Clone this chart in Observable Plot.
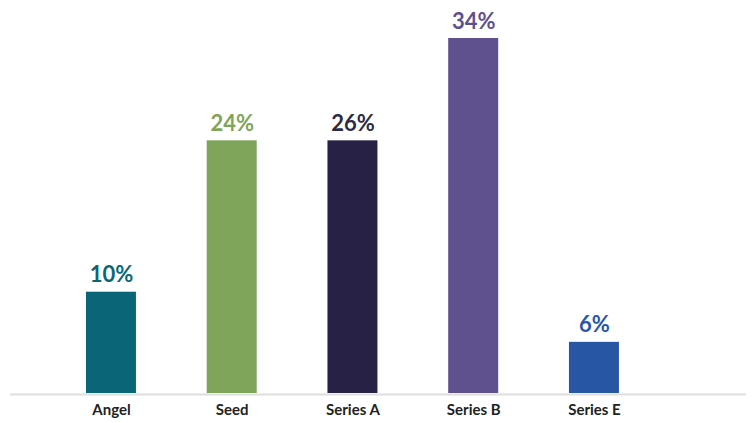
<!DOCTYPE html>
<html>
<head>
<meta charset="utf-8">
<script src="https://cdn.jsdelivr.net/npm/d3@7"></script>
<script src="https://cdn.jsdelivr.net/npm/@observablehq/plot@0.6"></script>
<style>
  html, body { margin: 0; padding: 0; background: #fff; }
  #chart svg { display: block; }
</style>
</head>
<body>
<div id="chart"></div>
<script>
const categories = ["Angel", "Seed", "Series A", "Series B", "Series E"];
// bar heights as drawn in the picture (percent)
const values = [9.7, 24.2, 24.2, 34, 4.9];
// value labels as printed above the bars
const labels = ["10%", "24%", "26%", "34%", "6%"];
const colors = ["#0a6677", "#7fa55a", "#272245", "#5e518e", "#2757a4"];
const labelColors = ["#0a6677", "#7fa55a", "#2c2a44", "#5e518e", "#2757a4"];

const data = categories.map((c, i) => ({
  category: c, value: values[i], label: labels[i], color: colors[i], labelColor: labelColors[i]
}));

const chart = Plot.plot({
  width: 752,
  height: 423,
  marginLeft: 10,
  marginRight: 6,
  marginTop: 0,
  marginBottom: 30,
  style: { fontFamily: "Lato, 'Open Sans', sans-serif", background: "#fff" },
  x: { domain: categories, range: [15.2, 689.7], padding: 0.586, round: false, label: null },
  y: { domain: [0, 34], range: [393, 38], axis: null },
  marks: [
    Plot.barY(data, { x: "category", y: "value", fill: "color" }),
    Plot.ruleY([0], { stroke: "#dedede", strokeWidth: 2, dy: 1 }),
    Plot.text(data, {
      x: "category", y: "value", text: "label", fill: "labelColor",
      dy: -10, lineAnchor: "bottom", fontSize: 22, fontWeight: 700
    }),
    Plot.axisX({ tickSize: 0, tickPadding: 11, fontSize: 15, fontWeight: 700, fill: "#222", label: null })
  ]
});
document.getElementById("chart").append(chart);
</script>
</body>
</html>
